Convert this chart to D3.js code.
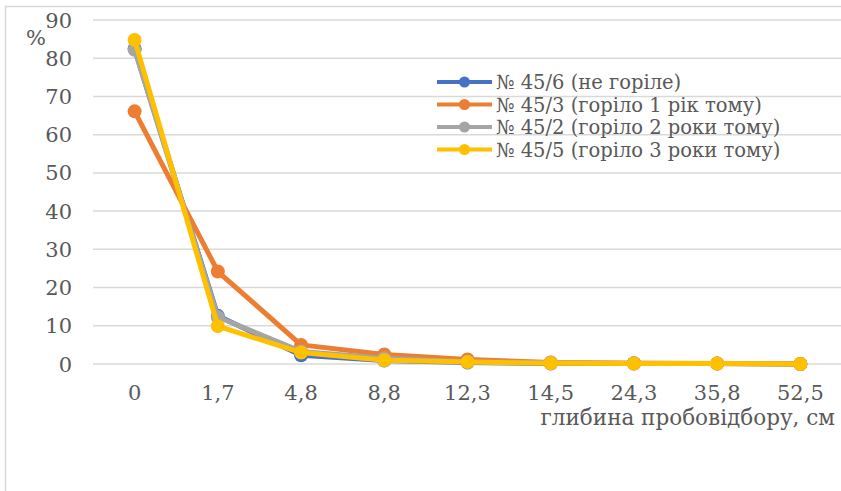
<!DOCTYPE html>
<html>
<head>
<meta charset="utf-8">
<script src="https://cdn.jsdelivr.net/npm/d3@7"></script>
<style>
  body { margin: 0; background: #fff; }
  svg { display: block; }
</style>
</head>
<body>
<svg width="841" height="491"></svg>
<script>
// дані з графіка
const depths = ['0', '1,7', '4,8', '8,8', '12,3', '14,5', '24,3', '35,8', '52,5']
const yTicks = [0, 10, 20, 30, 40, 50, 60, 70, 80, 90]

const s456 = [82.5, 12.6, 2.3, 0.9, 0.4, 0.1, 0.1, 0.1, 0]
const s453 = [66.1, 24.2, 5.0, 2.5, 1.2, 0.4, 0.2, 0.1, 0]
const s452 = [82.2, 12.3, 3.3, 1.5, 0.6, 0.3, 0.2, 0.1, 0]
const s455 = [84.8, 9.9, 3.0, 1.0, 0.5, 0.2, 0.1, 0.1, 0]

const seriesNames = ['№ 45/6 (не горіле)', '№ 45/3 (горіло 1 рік тому)', '№ 45/2 (горіло 2 роки тому)', '№ 45/5 (горіло 3 роки тому)']
const seriesColors = ['#4472C4', '#ED7D31', '#A5A5A5', '#FFC000']

const series = [s456, s453, s452, s455].map((values, i) => ({ name: seriesNames[i], color: seriesColors[i], values }))

const svg = d3.select('svg')
const textColor = '#595959'
const font = 'DejaVu Serif'

// рамка (обрізана праворуч і знизу)
svg.append('rect')
    .attr('x', 5.5).attr('y', 6.5)
    .attr('width', 900).attr('height', 600)
    .attr('fill', 'none').attr('stroke', '#d9d9d9').attr('stroke-width', 1.5)

const x = d3.scaleBand().domain(depths).range([93, 842])
const y = d3.scaleLinear().domain([0, 90]).range([364, 20])

// сітка
svg.append('g')
    .selectAll('line')
    .data(yTicks)
    .enter()
    .append('line')
        .attr('x1', 93).attr('x2', 841)
        .attr('y1', d => y(d)).attr('y2', d => y(d))
        .attr('stroke', '#d9d9d9').attr('stroke-width', 1.5)

// підписи осі Y
svg.append('g')
    .selectAll('text')
    .data(yTicks)
    .enter()
    .append('text')
        .attr('x', 72)
        .attr('y', d => y(d))
        .attr('dy', '0.36em')
        .attr('text-anchor', 'end')
        .style('font-family', font)
        .attr('font-size', 21)
        .attr('fill', textColor)
        .text(d => d)

svg.append('text')
    .attr('x', 26).attr('y', 45)
    .style('font-family', font)
    .attr('font-size', 21).attr('fill', textColor)
    .text('%')

// підписи осі X
svg.append('g')
    .selectAll('text')
    .data(depths)
    .enter()
    .append('text')
        .attr('x', d => x(d) + x.bandwidth() / 2)
        .attr('y', 400)
        .attr('text-anchor', 'middle')
        .style('font-family', font)
        .attr('font-size', 21)
        .attr('fill', textColor)
        .text(d => d)

svg.append('text')
    .attr('x', 835).attr('y', 425)
    .attr('text-anchor', 'end')
    .style('font-family', font)
    .attr('font-size', 21.5).attr('fill', textColor)
    .text('глибина пробовідбору, см')

// лінії
const cx = (d, i) => x(depths[i]) + x.bandwidth() / 2
const line = d3.line().x(cx).y(d => y(d))

const groups = svg.append('g')
    .selectAll('g')
    .data(series)
    .enter()
    .append('g')

groups.append('path')
    .attr('d', d => line(d.values))
    .attr('fill', 'none')
    .attr('stroke', d => d.color)
    .attr('stroke-width', 5)
    .attr('stroke-linejoin', 'round')

groups.each(function(s) {
    d3.select(this).selectAll('circle')
        .data(s.values)
        .enter()
        .append('circle')
            .attr('cx', cx)
            .attr('cy', d => y(d))
            .attr('r', 7)
            .attr('fill', s.color)
})

// легенда
const legend = svg.append('g')
    .selectAll('g')
    .data(series)
    .enter()
    .append('g')
        .attr('transform', (d, i) => `translate(437, ${82 + i * 22.5})`)

legend.append('line')
    .attr('x1', 0).attr('x2', 55)
    .attr('stroke', d => d.color).attr('stroke-width', 4)
legend.append('circle')
    .attr('cx', 27.5).attr('r', 5.5)
    .attr('fill', d => d.color)
legend.append('text')
    .attr('x', 59)
    .attr('dy', '0.36em')
    .style('font-family', font)
    .attr('font-size', 19.5)
    .attr('fill', textColor)
    .text(d => d.name)
</script>
</body>
</html>
